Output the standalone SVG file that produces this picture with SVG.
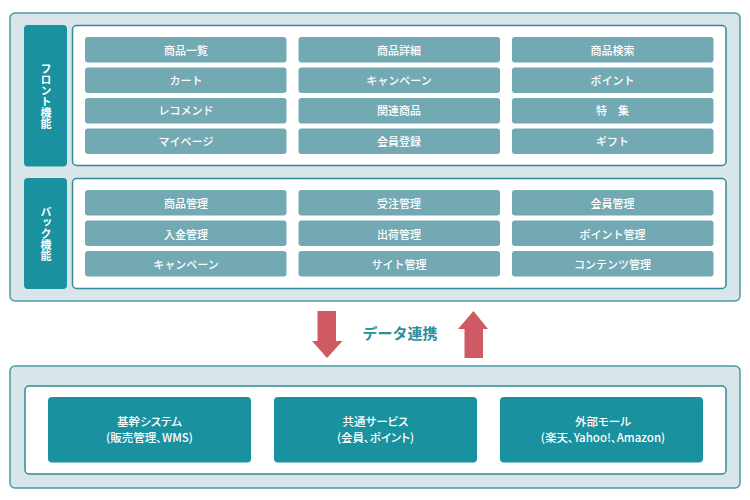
<svg xmlns="http://www.w3.org/2000/svg" width="750" height="500" viewBox="0 0 750 500">
<style>
text{font-family:"Noto Sans CJK JP","Noto Sans",sans-serif;text-anchor:middle}
.outer{fill:#d9e6e9;stroke:#4b9ba6;stroke-width:1.5}
.inner{fill:#fff;stroke:#2f8c98;stroke-width:1.5}
.side{fill:#1a919e}
.cell{fill:#73a9b3}
.main{fill:#1a919e}
.t{font-size:11px;font-weight:500;fill:#fff}
.v{font-size:11px;font-weight:700;fill:#fff;writing-mode:vertical-rl;text-anchor:middle}
.m{font-size:11.500px;font-weight:500;fill:#fff;font-feature-settings:"palt"}
.arrow{fill:#d05a64}
</style>
<g id="front-panel">
<rect class="outer" x="10" y="13" width="730" height="288" rx="5"/>
<rect class="inner" x="72.5" y="25.5" width="653.5" height="140" rx="4"/>
<rect class="side" x="24" y="25" width="43" height="141.500" rx="4"/>
<text class="v" x="46" y="96">フロント機能</text>
</g>
<g id="back-panel">
<rect class="inner" x="72.5" y="178.500" width="653.5" height="110" rx="4"/>
<rect class="side" x="24" y="178" width="43" height="111" rx="4"/>
<text class="v" x="46" y="233.500">バック機能</text>
</g>
<g id="n1"><rect class="cell" x="85" y="37" width="201.500" height="25.500" rx="3"/><text class="t" x="186" y="54.500">商品一覧</text></g>
<g id="n2"><rect class="cell" x="298.500" y="37" width="201.500" height="25.500" rx="3"/><text class="t" x="399" y="54.500">商品詳細</text></g>
<g id="n3"><rect class="cell" x="512" y="37" width="201.500" height="25.500" rx="3"/><text class="t" x="612.500" y="54.500">商品検索</text></g>
<g id="n4"><rect class="cell" x="85" y="67.500" width="201.500" height="25.500" rx="3"/><text class="t" x="186" y="85">カート</text></g>
<g id="n5"><rect class="cell" x="298.500" y="67.500" width="201.500" height="25.500" rx="3"/><text class="t" x="399" y="85">キャンペーン</text></g>
<g id="n6"><rect class="cell" x="512" y="67.500" width="201.500" height="25.500" rx="3"/><text class="t" x="612.500" y="85">ポイント</text></g>
<g id="n7"><rect class="cell" x="85" y="98" width="201.500" height="25.500" rx="3"/><text class="t" x="186" y="115">レコメンド</text></g>
<g id="n8"><rect class="cell" x="298.500" y="98" width="201.500" height="25.500" rx="3"/><text class="t" x="399" y="115">関連商品</text></g>
<g id="n9"><rect class="cell" x="512" y="98" width="201.500" height="25.500" rx="3"/><text class="t" x="612.500" y="115">特　集</text></g>
<g id="n10"><rect class="cell" x="85" y="128.500" width="201.500" height="25.500" rx="3"/><text class="t" x="186" y="145.500">マイページ</text></g>
<g id="n11"><rect class="cell" x="298.500" y="128.500" width="201.500" height="25.500" rx="3"/><text class="t" x="399" y="145.500">会員登録</text></g>
<g id="n12"><rect class="cell" x="512" y="128.500" width="201.500" height="25.500" rx="3"/><text class="t" x="612.500" y="145.500">ギフト</text></g>
<g id="n13"><rect class="cell" x="85" y="190" width="201.500" height="25.500" rx="3"/><text class="t" x="186" y="207.500">商品管理</text></g>
<g id="n14"><rect class="cell" x="298.500" y="190" width="201.500" height="25.500" rx="3"/><text class="t" x="399" y="207.500">受注管理</text></g>
<g id="n15"><rect class="cell" x="512" y="190" width="201.500" height="25.500" rx="3"/><text class="t" x="612.500" y="207.500">会員管理</text></g>
<g id="n16"><rect class="cell" x="85" y="220.500" width="201.500" height="25.500" rx="3"/><text class="t" x="186" y="238.500">入金管理</text></g>
<g id="n17"><rect class="cell" x="298.500" y="220.500" width="201.500" height="25.500" rx="3"/><text class="t" x="399" y="238.500">出荷管理</text></g>
<g id="n18"><rect class="cell" x="512" y="220.500" width="201.500" height="25.500" rx="3"/><text class="t" x="612.500" y="238.500">ポイント管理</text></g>
<g id="n19"><rect class="cell" x="85" y="251" width="201.500" height="25.500" rx="3"/><text class="t" x="186" y="268.500">キャンペーン</text></g>
<g id="n20"><rect class="cell" x="298.500" y="251" width="201.500" height="25.500" rx="3"/><text class="t" x="399" y="268.500">サイト管理</text></g>
<g id="n21"><rect class="cell" x="512" y="251" width="201.500" height="25.500" rx="3"/><text class="t" x="612.500" y="268.500">コンテンツ管理</text></g>
<g id="connectors">
<polygon class="arrow" points="317.500,311 336,311 336,341 342.500,341 327,358 312,341 317.500,341"/>
<polygon class="arrow" points="464.500,358 483,358 483,329 488,329 473.500,311 458,329 464.500,329"/>
</g>
<text x="400" y="339" font-size="15px" font-weight="700" fill="#2b8f9b">データ連携</text>
<g id="bottom-panel">
<rect class="outer" x="10" y="366" width="730" height="122" rx="5"/>
<rect class="inner" x="25" y="386" width="701" height="88" rx="4"/>
</g>
<g id="s1"><rect class="main" x="48" y="397" width="203" height="65.500" rx="4"/><text class="m" x="149.500" y="426">基幹システム</text><text class="m" x="149.500" y="442">(販売管理、WMS)</text></g>
<g id="s2"><rect class="main" x="274" y="397" width="203" height="65.500" rx="4"/><text class="m" x="375.500" y="426">共通サービス</text><text class="m" x="375.500" y="442">(会員、ポイント)</text></g>
<g id="s3"><rect class="main" x="500" y="397" width="203" height="65.500" rx="4"/><text class="m" x="603" y="426">外部モール</text><text class="m" x="603" y="442">(楽天、Yahoo!、Amazon)</text></g>
</svg>
